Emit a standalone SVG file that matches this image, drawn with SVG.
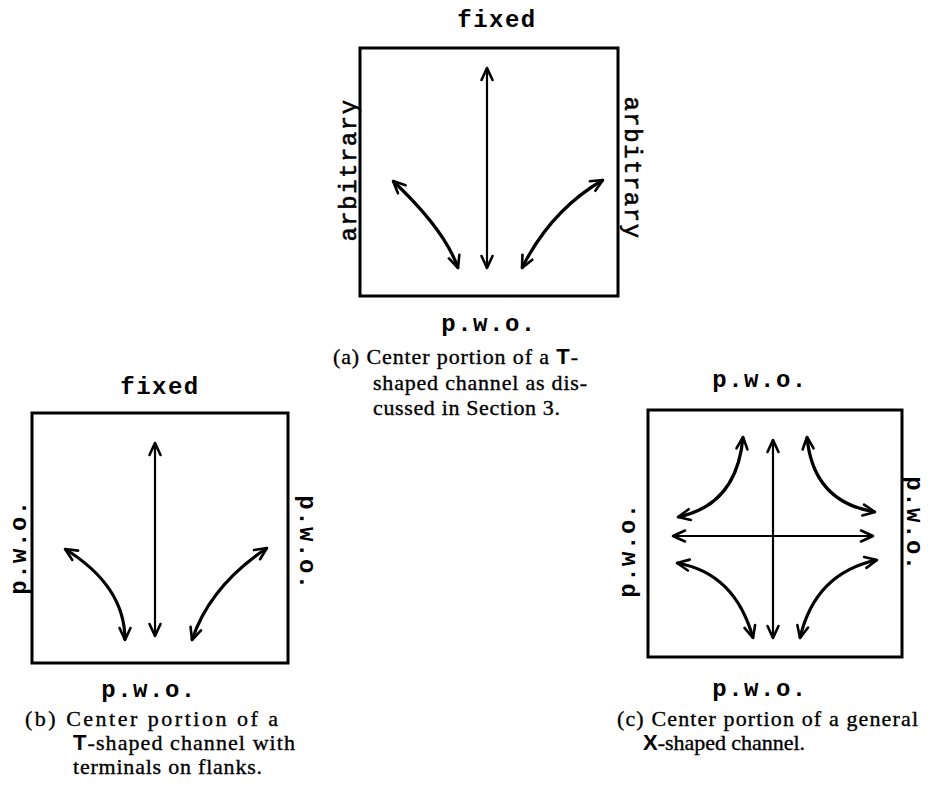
<svg xmlns="http://www.w3.org/2000/svg" width="929" height="805" viewBox="0 0 929 805">
<style>
.box{fill:none;stroke:#000;stroke-width:3}
.mono{font-family:"Liberation Mono","Courier New",monospace;font-size:24px;letter-spacing:1.5px;fill:#000}
.b{font-weight:bold}
.n{stroke:#000;stroke-width:0.6}
.cap{font-family:"Liberation Serif","Times New Roman",serif;font-size:22px;fill:#000;stroke:#000;stroke-width:0.35}
.sans{font-family:"Liberation Sans",Arial,sans-serif;font-weight:bold;stroke-width:0}
.ln{fill:none;stroke:#000;stroke-width:2.2;marker-start:url(#ah);marker-end:url(#ah)}
.cv{fill:none;stroke:#000;stroke-width:3.2;marker-start:url(#ah);marker-end:url(#ah)}
</style>
<defs>
<marker id="ah" viewBox="-14 -8 16 16" refX="0" refY="0" markerWidth="16" markerHeight="16" markerUnits="userSpaceOnUse" orient="auto-start-reverse">
<path d="M-12,-5.5 L0,0 L-12,5.5" fill="none" stroke="#000" stroke-width="2.6" stroke-linecap="round" stroke-linejoin="round"/>
</marker>
</defs>

<g id="panel-a">
<rect class="box" x="360" y="48" width="258" height="248"/>
<text class="mono b" x="497" y="27" text-anchor="middle">fixed</text>
<text class="mono n" transform="translate(356,170) rotate(-90)" text-anchor="middle">arbitrary</text>
<text class="mono n" transform="translate(625,168) rotate(90)" text-anchor="middle">arbitrary</text>
<text class="mono b" x="489" y="331" text-anchor="middle">p.w.o.</text>
<text class="cap" x="333" y="364" textLength="245" lengthAdjust="spacing">(a) Center portion of a <tspan class="sans">T</tspan>-</text>
<text class="cap" x="373" y="390" textLength="214" lengthAdjust="spacing">shaped channel as dis-</text>
<text class="cap" x="373" y="415" textLength="187" lengthAdjust="spacing">cussed in Section 3.</text>
</g>

<g id="panel-b">
<rect class="box" x="32" y="413" width="256" height="250"/>
<text class="mono b" x="160" y="394" text-anchor="middle">fixed</text>
<text class="mono b" transform="translate(26,547) rotate(-90)" text-anchor="middle">p.w.o.</text>
<text class="mono b" transform="translate(300,543) rotate(90)" text-anchor="middle">p.w.o.</text>
<text class="mono b" x="149" y="697" text-anchor="middle">p.w.o.</text>
<text class="cap" x="25" y="726" textLength="253" lengthAdjust="spacing">(b) Center portion of a</text>
<text class="cap" x="73" y="750" textLength="222" lengthAdjust="spacing"><tspan class="sans">T</tspan>-shaped channel with</text>
<text class="cap" x="73" y="774" textLength="189" lengthAdjust="spacing">terminals on flanks.</text>
</g>

<g id="panel-c">
<rect class="box" x="648" y="410" width="254" height="247"/>
<text class="mono b" x="760" y="387" text-anchor="middle">p.w.o.</text>
<text class="mono b" transform="translate(635,550) rotate(-90)" text-anchor="middle">p.w.o.</text>
<text class="mono b" transform="translate(907,524) rotate(90)" text-anchor="middle">p.w.o.</text>
<text class="mono b" x="760" y="696" text-anchor="middle">p.w.o.</text>
<text class="cap" x="617" y="726" textLength="301" lengthAdjust="spacing">(c) Center portion of a general</text>
<text class="cap" x="643" y="750" textLength="162" lengthAdjust="spacing"><tspan class="sans">X</tspan>-shaped channel.</text>
</g>

<g id="connectors">
<line class="ln" x1="487" y1="68" x2="487" y2="268"/>
<path class="cv" d="M393,181 Q445,230 458,268"/>
<path class="cv" d="M603,180 Q551,210 522,268"/>

<line class="ln" x1="155" y1="443" x2="155" y2="636"/>
<path class="cv" d="M65,549 Q125,586 125,640"/>
<path class="cv" d="M267,548 Q210,586 192,640"/>

<line class="ln" x1="773" y1="440" x2="773" y2="638"/>
<line class="ln" x1="673" y1="536" x2="873" y2="536"/>
<path class="cv" d="M743,437 Q737,505 678,517"/>
<path class="cv" d="M807,437 Q813,502 875,512"/>
<path class="cv" d="M677,563 Q735,573 753,638"/>
<path class="cv" d="M877,560 Q815,573 800,638"/>
</g>
</svg>
